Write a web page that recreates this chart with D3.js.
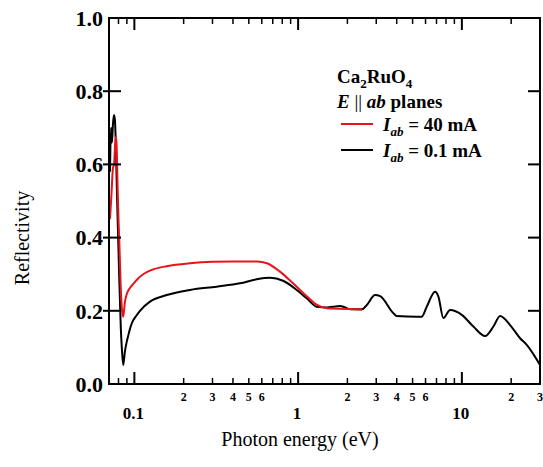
<!DOCTYPE html>
<html><head><meta charset="utf-8">
<script src="https://cdn.jsdelivr.net/npm/d3@7"></script>
<style>body{margin:0;background:#fff}svg{display:block}</style>
</head><body>
<script>
// ---- data ----
const energyBlack = [0.071,0.072,0.073,0.074,0.0751,0.0761,0.0772,0.0783,0.0794,0.0805,0.0816,0.0827,0.0838,0.0855,0.0876,0.0898,0.0915,0.0942,0.0965,0.1033,0.1082,0.1246,0.1576,0.2188,0.3179,0.4419,0.5588,0.6733,0.809,0.981,1.129,1.30,1.50,1.635,1.804,1.89,2.08,2.45,2.63,2.95,3.17,3.82,4.0,5.3,5.69,6.1,6.86,7.19,7.71,8.47,9.99,11.76,13.87,15.58,17.12,19.7,22.67,24.9,30];
const reflBlack = [0.58,0.70,0.66,0.71,0.735,0.72,0.64,0.52,0.42,0.32,0.23,0.15,0.10,0.052,0.09,0.115,0.13,0.152,0.166,0.188,0.20,0.225,0.243,0.257,0.266,0.275,0.286,0.29,0.282,0.257,0.234,0.211,0.209,0.211,0.213,0.211,0.204,0.204,0.216,0.243,0.24,0.193,0.186,0.184,0.184,0.211,0.252,0.239,0.18,0.202,0.189,0.157,0.131,0.157,0.186,0.161,0.125,0.107,0.052];
const energyRed = [0.071,0.0725,0.074,0.0751,0.0769,0.0778,0.0789,0.08,0.0808,0.0824,0.0838,0.0855,0.0876,0.0898,0.0942,0.1,0.1057,0.115,0.13,0.1576,0.2188,0.3018,0.4004,0.5612,0.6455,0.775,0.931,1.134,1.305,1.502,2.08,2.46];
const reflRed = [0.45,0.52,0.59,0.60,0.675,0.66,0.55,0.45,0.40,0.276,0.21,0.184,0.225,0.245,0.263,0.277,0.289,0.302,0.313,0.322,0.33,0.334,0.335,0.335,0.33,0.307,0.275,0.239,0.216,0.207,0.205,0.203];
const yTicks = [0.0,0.2,0.4,0.6,0.8,1.0];
const xMajor = [0.1,1,10];
const xMajorLabels = ["0.1","1","10"];
const xMinor = [0.08,0.09,0.2,0.3,0.4,0.5,0.6,0.7,0.8,0.9,2,3,4,5,6,7,8,9,20,30];
const xMinorLabeled = [0.2,0.3,0.4,0.5,0.6,2,3,4,5,6,20,30];
const seriesNames = ["40 mA","0.1 mA"];
const colors = ["#e8141c","#000000"];

const W=543,H=467;
const L=109,R=540,T=18,B=384;
const svg=d3.select("body").append("svg").attr("width",W).attr("height",H);
const x=d3.scaleLog().domain([0.07,30]).range([L,R]);
const y=d3.scaleLinear().domain([0,1]).range([B,T]);
const serif='"Liberation Serif","Times New Roman",serif';

// curves
const line=d3.line().x(d=>x(d[0])).y(d=>y(d[1])).curve(d3.curveMonotoneX);
svg.append("clipPath").attr("id","c").append("rect").attr("x",L).attr("y",T).attr("width",R-L).attr("height",B-T);
const g=svg.append("g").attr("clip-path","url(#c)");
g.append("path").datum(d3.zip(energyBlack,reflBlack)).attr("d",line).attr("fill","none").attr("stroke",colors[1]).attr("stroke-width",2);
g.append("path").datum(d3.zip(energyRed,reflRed)).attr("d",line).attr("fill","none").attr("stroke",colors[0]).attr("stroke-width",2);

// frame
svg.append("rect").attr("x",L).attr("y",T).attr("width",R-L).attr("height",B-T).attr("fill","none").attr("stroke","#000").attr("stroke-width",2);

// y ticks
yTicks.forEach(v=>{
  if(v>0 && v<1){
    svg.append("line").attr("x1",L-6).attr("x2",L+12).attr("y1",y(v)).attr("y2",y(v)).attr("stroke","#000").attr("stroke-width",2);
    svg.append("line").attr("x1",R-12).attr("x2",R).attr("y1",y(v)).attr("y2",y(v)).attr("stroke","#000").attr("stroke-width",2);
  }
  svg.append("text").attr("x",103).attr("y",y(v)).attr("dy","0.35em").attr("text-anchor","end")
    .attr("font-family",serif).attr("font-weight","bold").attr("font-size",22).text(d3.format(".1f")(v));
});
// x ticks
xMajor.forEach((v,i)=>{
  [[B,B-12],[T,T+12]].forEach(p=>svg.append("line").attr("x1",x(v)).attr("x2",x(v)).attr("y1",p[0]).attr("y2",p[1]).attr("stroke","#000").attr("stroke-width",2));
  svg.append("text").attr("x",x(v)-1).attr("y",419).attr("text-anchor","middle").attr("font-family",serif).attr("font-weight","bold").attr("font-size",17).text(xMajorLabels[i]);
});
xMinor.forEach(v=>{
  [[B,B-6],[T,T+6]].forEach(p=>svg.append("line").attr("x1",x(v)).attr("x2",x(v)).attr("y1",p[0]).attr("y2",p[1]).attr("stroke","#000").attr("stroke-width",1.5));
});
xMinorLabeled.forEach(v=>{
  const s=String(v).replace(/^0\./,"").replace(/0$/,"");
  svg.append("text").attr("x",x(v)).attr("y",401).attr("text-anchor","middle").attr("font-family",serif).attr("font-weight","bold").attr("font-size",12).text(s);
});

// axis titles
svg.append("text").attr("x",300).attr("y",446).attr("text-anchor","middle").attr("font-family",serif).attr("font-size",20).text("Photon energy (eV)");
svg.append("text").attr("transform","translate(29,238) rotate(-90)").attr("text-anchor","middle").attr("font-family",serif).attr("font-size",20).text("Reflectivity");

// legend
const lg=svg.append("g").attr("font-family",serif).attr("font-size",19).attr("font-weight","bold");
const t1=lg.append("text").attr("x",337).attr("y",83);
t1.append("tspan").text("Ca");
t1.append("tspan").attr("font-size",13).attr("dy",5).text("2");
t1.append("tspan").attr("dy",-5).text("RuO");
t1.append("tspan").attr("font-size",13).attr("dy",5).text("4");
const t2=lg.append("text").attr("x",337).attr("y",108);
t2.append("tspan").attr("font-style","italic").text("E");
t2.append("tspan").attr("font-weight","normal").text(" || ");
t2.append("tspan").attr("font-style","italic").text("ab");
t2.append("tspan").text(" planes");
[124,150].forEach((ly,i)=>{
  lg.append("line").attr("x1",341).attr("x2",373).attr("y1",ly).attr("y2",ly).attr("stroke",colors[i]).attr("stroke-width",2);
  const t=lg.append("text").attr("x",383).attr("y",ly+7);
  t.append("tspan").attr("font-style","italic").text("I");
  t.append("tspan").attr("font-style","italic").attr("font-size",13).attr("dy",5).text("ab");
  t.append("tspan").attr("dy",-5).text(" = "+seriesNames[i]);
});
</script>
</body></html>
